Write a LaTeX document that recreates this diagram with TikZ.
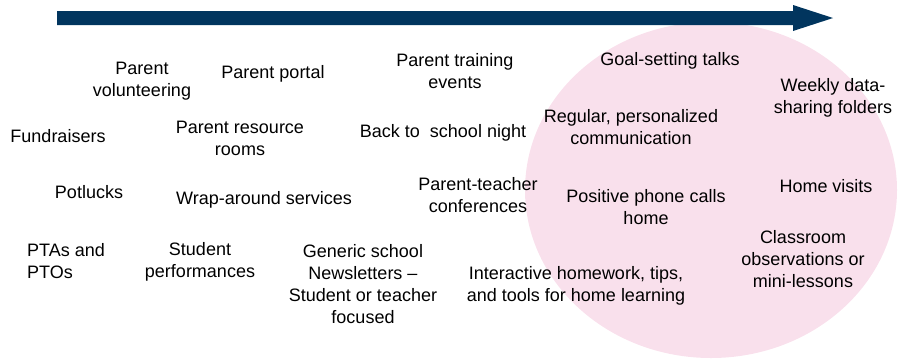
\documentclass[tikz,border=0pt]{standalone}
\usepackage{fontspec}
\setmainfont{Liberation Sans}
\definecolor{navy}{RGB}{1,53,94}
\definecolor{blush}{RGB}{249,224,236}

\begin{document}
\begin{tikzpicture}[x=1pt,y=-1pt]
  \tikzstyle{item}=[align=center,inner sep=0pt,font=\fontsize{18}{22}\selectfont]

\useasboundingbox (0,0) rectangle (899,360);

% the shaded region and the long arrow
\fill[blush] (711,190) ellipse (186 and 168);
\fill[navy] (57,11) -- (793,11) -- (793,5) -- (833,18) -- (793,31)
  -- (793,25) -- (57,25) -- cycle;

% activities, left to right
\foreach \nm/\x/\y/\t in {
  vol/142/81/{Parent\\volunteering},
  portal/273/74/{Parent portal},
  training/455/71/{Parent training\\events},
  goals/670/61/{Goal-setting talks},
  folders/833/98/{Weekly data-\\sharing folders},
  fund/58/136/{Fundraisers},
  rooms/240/138/{Parent resource\\rooms},
  night/443/133/{Back to\ \ school night},
  comm/631/127/{Regular, personalized\\communication},
  pot/89/192/{Potlucks},
  wrap/264/200/{Wrap-around services},
  conf/478/195/{Parent-teacher\\conferences},
  calls/646/207/{Positive phone calls\\home},
  visits/826/186/{Home visits},
  perf/200/262/{Student\\performances},
  news/363/284/{Generic school\\Newsletters --\\Student or teacher\\focused},
  lessons/803/259/{Classroom\\observations or\\mini-lessons},
  homework/576/286/{Interactive homework, tips,\\and tools for home learning}} {
  \node[item] (\nm) at (\x,\y) {\t};
}

\node[item,align=left,anchor=west] (pta) at (27,261) {PTAs and\\PTOs};

\end{tikzpicture}
\end{document}
